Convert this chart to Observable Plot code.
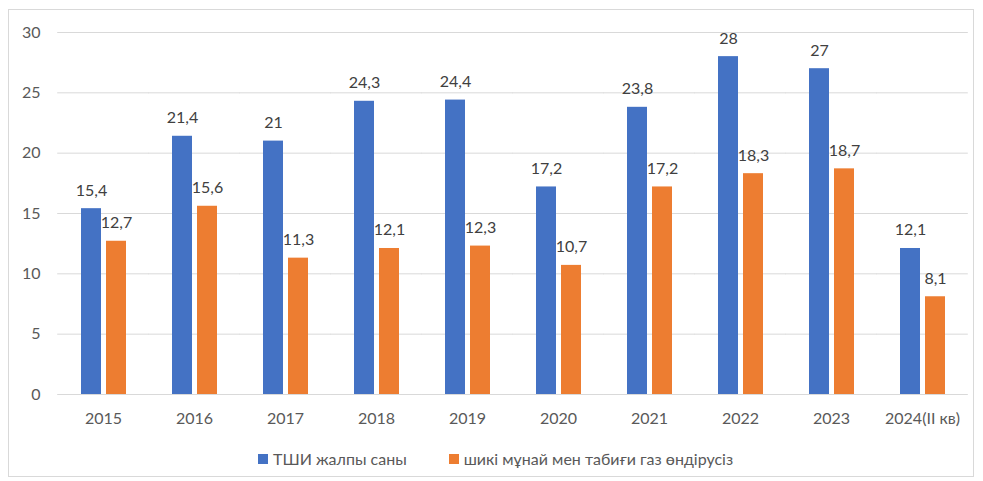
<!DOCTYPE html>
<html>
<head>
<meta charset="utf-8">
<script src="https://cdn.jsdelivr.net/npm/d3@7"></script>
<script src="https://cdn.jsdelivr.net/npm/@observablehq/plot@0.6"></script>
<style>
  body { margin: 0; background: #fff; font-family: Lato, "Open Sans", sans-serif; }
  #wrap { position: relative; width: 983px; height: 481px; }
  #frame { position: absolute; left: 8px; top: 9px; width: 966px; height: 468px; border: 1px solid #d9d9d9; box-sizing: border-box; }
  #chart { position: absolute; left: 0; top: 0; }
  #legend { position: absolute; left: 258px; top: 449px; display: flex; gap: 42px; font-size: 16px; color: #595959; }
  .item { display: flex; align-items: center; }
  .sw { width: 10px; height: 10px; margin-right: 5px; display: inline-block; }
</style>
</head>
<body>
<div id="wrap">
  <div id="frame"></div>
  <div id="chart"></div>
  <div id="legend"></div>
</div>
<script>
const years = ["2015","2016","2017","2018","2019","2020","2021","2022","2023","2024(II кв)"];
const seriesNames = ["ТШИ жалпы саны", "шикі мұнай мен табиғи газ өндірусіз"];
const seriesColors = ["#4472C4", "#ED7D31"];
const totalFDI = [15.4, 21.4, 21, 24.3, 24.4, 17.2, 23.8, 28, 27, 12.1];
const nonOilFDI = [12.7, 15.6, 11.3, 12.1, 12.3, 10.7, 17.2, 18.3, 18.7, 8.1];
const yTicks = [0, 5, 10, 15, 20, 25, 30];

const data = [];
years.forEach((y, i) => {
  data.push({year: y, series: seriesNames[0], value: totalFDI[i]});
  data.push({year: y, series: seriesNames[1], value: nonOilFDI[i]});
});
const fmt = v => String(v).replace(".", ",");

const chart = Plot.plot({
  width: 983,
  height: 440,
  marginLeft: 57,
  marginRight: 15,
  marginTop: 32,
  marginBottom: 46,
  style: { fontFamily: "Lato, 'Open Sans', sans-serif", fontSize: "16px", color: "#595959", background: "transparent" },
  fx: { domain: years, paddingInner: 0.5, paddingOuter: 0.25, label: null, axis: null },
  x: { domain: seriesNames, paddingInner: 0.2, paddingOuter: 0, axis: null },
  y: { domain: [0, 30], ticks: yTicks, label: null, axis: null },
  color: { domain: seriesNames, range: seriesColors },
  marks: [
    Plot.ruleY(yTicks, { stroke: "#d9d9d9", strokeWidth: 1, insetLeft: -22.8, insetRight: -22.8 }),
    Plot.axisY(yTicks, { anchor: "left", tickSize: 0, tickPadding: 40, label: null, fill: "#595959", fontSize: 16 }),
    Plot.axisFx({ anchor: "bottom", tickSize: 0, tickPadding: 18, label: null, fill: "#595959", fontSize: 16 }),
    Plot.barY(data, { fx: "year", x: "series", y: "value", fill: "series" }),
    Plot.text(data, { fx: "year", x: "series", y: "value", text: d => fmt(d.value), lineAnchor: "bottom", dy: -13, fill: "#404040", fontSize: 16 })
  ]
});
document.getElementById("chart").appendChild(chart);

const legend = document.getElementById("legend");
seriesNames.forEach((n, i) => {
  const it = document.createElement("div");
  it.className = "item";
  const sw = document.createElement("span");
  sw.className = "sw";
  sw.style.background = seriesColors[i];
  it.appendChild(sw);
  it.appendChild(document.createTextNode(n));
  legend.appendChild(it);
});
</script>
</body>
</html>
